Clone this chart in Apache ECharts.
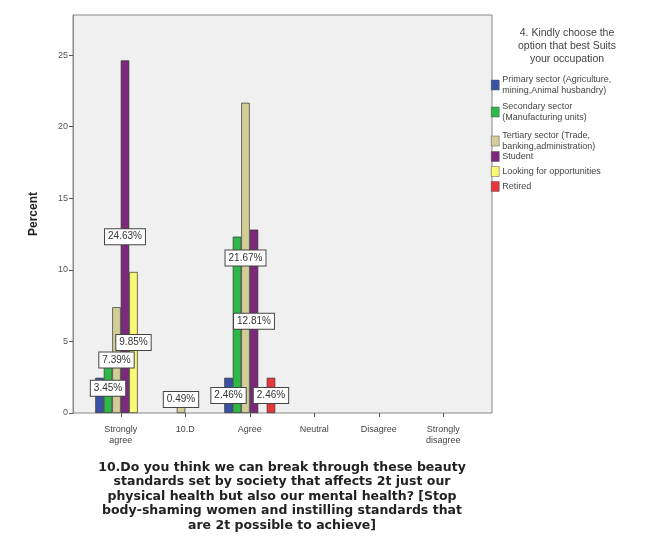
<!DOCTYPE html>
<html>
<head>
<meta charset="utf-8">
<script src="https://cdn.jsdelivr.net/npm/echarts@6/dist/echarts.min.js"></script>
<style>html,body{margin:0;padding:0;background:#fff}#c{width:645px;height:550px}</style>
</head>
<body>
<div id="c"></div>
<script>
// ---- data ----
const categories = ['Strongly\nagree', '10.D', 'Agree', 'Neutral', 'Disagree', 'Strongly\ndisagree'];
const seriesNames = [
  'Primary sector (Agriculture,\nmining,Animal husbandry)',
  'Secondary sector\n(Manufacturing units)',
  'Tertiary sector (Trade,\nbanking,administration)',
  'Student',
  'Looking for opportunities',
  'Retired'
];
const primaryValues   = [2.46, 0, 2.46, 0, 0, 0];
const secondaryValues = [3.45, 0, 12.32, 0, 0, 0];
const tertiaryValues  = [7.39, 0.49, 21.67, 0, 0, 0];
const studentValues   = [24.63, 0, 12.81, 0, 0, 0];
const lookingValues   = [9.85, 0, 0, 0, 0, 0];
const retiredValues   = [0, 0, 2.46, 0, 0, 0];
// which bars carry a visible percentage label
const primaryLabeled   = [false, false, true, false, false, false];
const secondaryLabeled = [true, false, false, false, false, false];
const tertiaryLabeled  = [true, true, true, false, false, false];
const studentLabeled   = [true, false, true, false, false, false];
const lookingLabeled   = [true, false, false, false, false, false];
const retiredLabeled   = [false, false, true, false, false, false];
const yTicks = [0, 5, 10, 15, 20, 25];
const xAxisTitle = '10.Do you think we can break through these beauty\nstandards set by society that affects 2t just our\nphysical health but also our mental health? [Stop\nbody-shaming women and instilling standards that\nare 2t possible to achieve]';
const legendTitle = '4. Kindly choose the\noption that best Suits\nyour occupation';

const allValues = [primaryValues, secondaryValues, tertiaryValues, studentValues, lookingValues, retiredValues];
const allLabeled = [primaryLabeled, secondaryLabeled, tertiaryLabeled, studentLabeled, lookingLabeled, retiredLabeled];
const colors = ['#3A52A3', '#2EB848', '#D3CE97', '#7C287D', '#FBF873', '#E8363A'];
const legendTops = [74, 101, 130, 151, 166, 181];
const FONT = 'Liberation Sans, Arial, sans-serif';
const YMAX = 27.8;

const labelStyle = {
  show: true,
  position: 'inside',
  formatter: p => Number(p.value).toFixed(2) + '%',
  backgroundColor: '#fff',
  borderColor: '#444',
  borderWidth: 1,
  padding: [3, 3, 2, 3],
  fontSize: 10,
  fontFamily: FONT,
  color: '#333'
};

const series = allValues.map((vals, i) => ({
  name: seriesNames[i],
  type: 'bar',
  xAxisIndex: 1,
  yAxisIndex: 1,
  barGap: '0%',
  barCategoryGap: '21%',
  itemStyle: { color: colors[i], borderColor: '#333', borderWidth: 0.7 },
  label: { show: false },
  z: 3,
  data: vals.map((v, j) => {
    if (v === 0) return '-';
    const d = { value: v };
    if (allLabeled[i][j]) {
      d.label = Object.assign({}, labelStyle);
      if (v < 1) d.label.offset = [0, -10];
    }
    return d;
  })
}));

const legends = seriesNames.map((n, i) => ({
  data: [n],
  orient: 'vertical',
  left: 491,
  top: legendTops[i],
  itemWidth: 8,
  itemHeight: 10,
  itemGap: 0,
  padding: 0,
  icon: 'rect',
  selectedMode: false,
  itemStyle: { borderColor: '#555', borderWidth: 0.5 },
  textStyle: { fontSize: 9, lineHeight: 11, color: '#444', fontFamily: FONT, padding: [0, 0, 0, -2] }
}));

const chart = echarts.init(document.getElementById('c'), null, { renderer: 'canvas' });
chart.setOption({
  animation: false,
  backgroundColor: '#fff',
  title: {
    text: legendTitle,
    left: 562,
    top: 22,
    textAlign: 'center',
    textStyle: { fontSize: 10.5, lineHeight: 13, fontWeight: 'normal', color: '#444', fontFamily: FONT }
  },
  legend: legends,
  grid: [
    { left: 73, top: 15, width: 419, height: 398, show: true, backgroundColor: '#f0f0f0', borderColor: '#888', borderWidth: 1, z: 0 },
    { left: 88.5, top: 15, width: 387, height: 398, show: false }
  ],
  xAxis: [
    { gridIndex: 0, type: 'category', data: categories, show: false },
    {
      gridIndex: 1, type: 'category', data: categories,
      axisLine: { show: false },
      axisTick: { show: true, alignWithLabel: true, length: 4, lineStyle: { color: '#555' } },
      axisLabel: { fontSize: 9, lineHeight: 11, color: '#444', fontFamily: FONT, margin: 11, interval: 0 },
      name: xAxisTitle,
      nameLocation: 'middle',
      nameGap: 47,
      nameTextStyle: { fontSize: 12.5, lineHeight: 14.5, fontWeight: 'bold', color: '#222', fontFamily: 'DejaVu Sans, sans-serif', verticalAlign: 'top', align: 'center' }
    }
  ],
  yAxis: [
    {
      gridIndex: 0, type: 'value', min: 0, max: YMAX, interval: 5,
      axisLine: { show: true, lineStyle: { color: '#888' } },
      axisTick: { show: true, length: 4, lineStyle: { color: '#555' }, customValues: yTicks },
      splitLine: { show: false },
      axisLabel: { fontSize: 9, color: '#555', fontFamily: FONT, margin: 5, customValues: yTicks },
      name: 'Percent',
      nameLocation: 'middle',
      nameGap: 33,
      nameTextStyle: { fontSize: 12, fontWeight: 'bold', color: '#222', fontFamily: FONT }
    },
    { gridIndex: 1, type: 'value', min: 0, max: YMAX, show: false, splitLine: { show: false } }
  ],
  series: series
});
</script>
</body>
</html>
